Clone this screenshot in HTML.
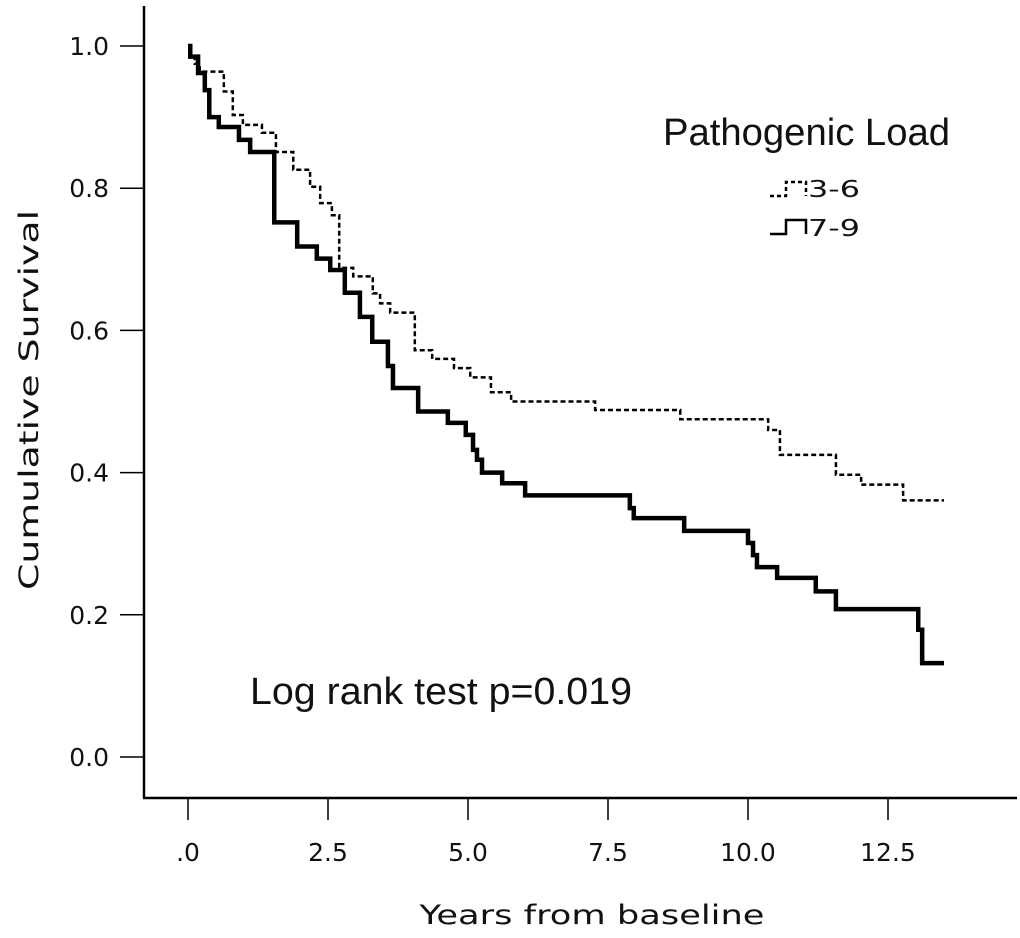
<!DOCTYPE html>
<html><head><meta charset="utf-8"><style>
body{margin:0;background:#fff;}
svg text{font-family:"DejaVu Sans","Liberation Sans",sans-serif;fill:#111;}
</style></head><body>
<svg id="chart" width="1020" height="933" viewBox="0 0 1020 933" xmlns="http://www.w3.org/2000/svg">
<g id="axes"></g>
<g id="series"></g>
<text x="663" y="145" font-size="38" textLength="287" lengthAdjust="spacingAndGlyphs" style="font-family:'Liberation Sans',sans-serif">Pathogenic Load</text>
<path d="M770 196 H786 V182 H806 V196" fill="none" stroke="#000" stroke-width="2.5" stroke-dasharray="4,3"/>
<text x="808" y="197" font-size="23" textLength="52" lengthAdjust="spacingAndGlyphs">3-6</text>
<path d="M770 234 H786 V220 H806 V234" fill="none" stroke="#000" stroke-width="2.5"/>
<text x="808" y="236" font-size="23" textLength="52" lengthAdjust="spacingAndGlyphs">7-9</text>
<text x="250" y="704" font-size="38" textLength="382" lengthAdjust="spacingAndGlyphs" style="font-family:'Liberation Sans',sans-serif">Log rank test p=0.019</text>
<text transform="translate(38,400) rotate(-90)" text-anchor="middle" font-size="27" textLength="380" lengthAdjust="spacingAndGlyphs">Cumulative Survival</text>
<text x="592" y="924" text-anchor="middle" font-size="27" textLength="345" lengthAdjust="spacingAndGlyphs">Years from baseline</text>
</svg>
<script>
const xTicks=[0,2.5,5,7.5,10,12.5];
const xTickLabels=[".0","2.5","5.0","7.5","10.0","12.5"];
const yTicks=[0,0.2,0.4,0.6,0.8,1.0];
const yTickLabels=["0.0","0.2","0.4","0.6","0.8","1.0"];
const solidTimes=[0,0.04,0.18,0.30,0.38,0.55,0.91,1.11,1.54,1.95,2.30,2.54,2.80,3.07,3.29,3.57,3.66,4.11,4.64,4.96,5.09,5.16,5.25,5.61,6.02,7.89,7.96,8.86,10.0,10.09,10.16,10.52,11.21,11.57,13.04,13.11];
const solidSurv=[1.0,0.985,0.962,0.938,0.90,0.886,0.868,0.851,0.752,0.718,0.701,0.685,0.653,0.619,0.584,0.55,0.519,0.486,0.47,0.453,0.432,0.418,0.40,0.385,0.368,0.35,0.336,0.318,0.301,0.284,0.267,0.252,0.233,0.208,0.179,0.132];
const dashTimes=[0,0.04,0.12,0.21,0.64,0.80,0.98,1.32,1.57,1.88,2.18,2.36,2.57,2.70,2.95,3.30,3.43,3.61,4.05,4.36,4.75,5.04,5.41,5.77,7.27,8.79,10.36,10.57,11.57,12.02,12.77];
const dashSurv=[1.0,0.985,0.975,0.964,0.936,0.903,0.889,0.878,0.851,0.826,0.802,0.779,0.762,0.688,0.676,0.652,0.638,0.625,0.572,0.56,0.547,0.534,0.513,0.50,0.488,0.475,0.46,0.425,0.397,0.383,0.361];
const endTime=13.5;
const NS="http://www.w3.org/2000/svg";
function xs(t){return 188+t*56;}
function ys(v){return 757-v*711;}
const axes=document.getElementById('axes');
function mk(tag,attrs,parent){const e=document.createElementNS(NS,tag);for(const k in attrs)e.setAttribute(k,attrs[k]);parent.appendChild(e);return e;}
let yl=mk('line',{x1:144,y1:6,x2:144,y2:798,stroke:'#000','stroke-width':2.5},axes);


let xl=mk('line',{x1:143,y1:798,x2:1017,y2:798,stroke:'#000','stroke-width':2.5},axes);


yTicks.forEach((v,i)=>{
  let t=mk('line',{x1:120,x2:144,y1:ys(v),y2:ys(v),stroke:'#000','stroke-width':1.5},axes);
  
  
  let l=mk('text',{x:109,y:ys(v)+9,'text-anchor':'end','font-size':25},axes);
  l.textContent=yTickLabels[i];
  
  
});
xTicks.forEach((v,i)=>{
  let t=mk('line',{x1:xs(v),x2:xs(v),y1:798,y2:820,stroke:'#000','stroke-width':1.5},axes);
  
  
  let l=mk('text',{x:xs(v),y:861,'text-anchor':'middle','font-size':25},axes);
  l.textContent=xTickLabels[i];
  
  
});
function stepPath(ts,ss){let d='M'+xs(ts[0])+' '+ys(ss[0]);for(let i=1;i<ts.length;i++){d+=' H'+xs(ts[i])+' V'+ys(ss[i]);}d+=' H'+xs(endTime);return d;}
const ser=document.getElementById('series');
let p1=mk('path',{d:stepPath(dashTimes,dashSurv),fill:'none',stroke:'#000','stroke-width':2.5,'stroke-dasharray':'5,3'},ser);


let p2=mk('path',{d:stepPath(solidTimes,solidSurv),fill:'none',stroke:'#000','stroke-width':4.5},ser);


</script>
</body></html>
